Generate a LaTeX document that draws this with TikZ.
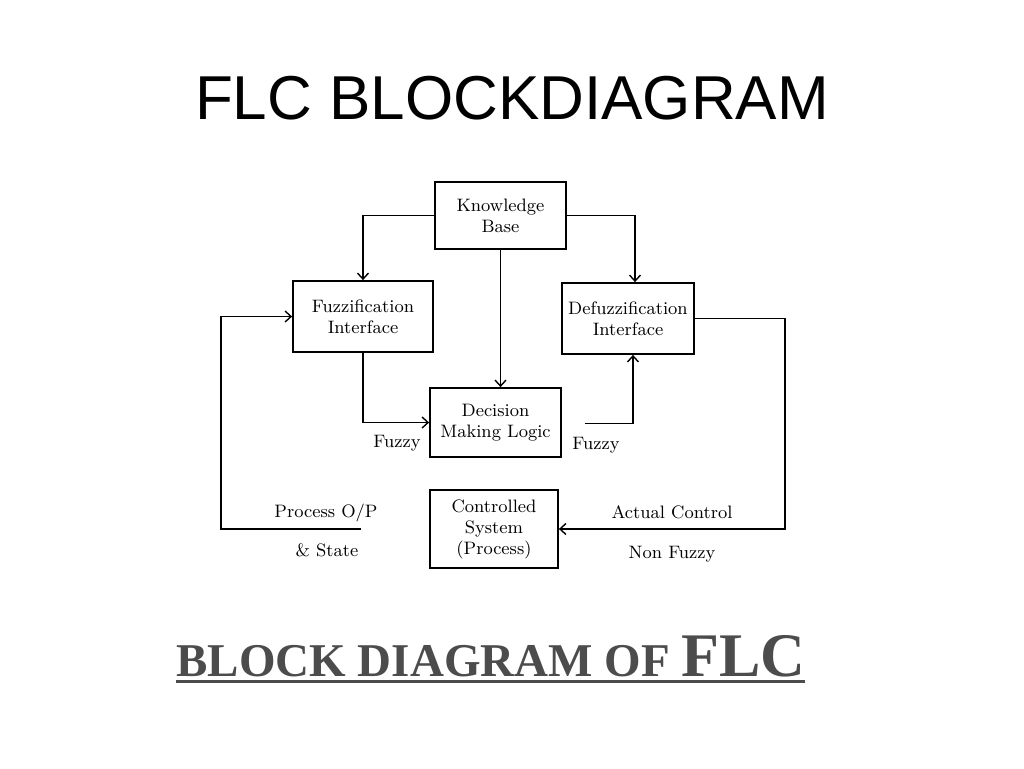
\documentclass[tikz,border=0pt]{standalone}
\usepackage{fontspec}
\newfontfamily\headfont{Liberation Sans}
\newfontfamily\capsfont{Liberation Serif}
\usepackage{tikz}
\usetikzlibrary{calc, positioning, arrows.meta}

\tikzset{
    block/.style={draw, line width=0.9pt, align=center, inner sep=0pt, font=\fontsize{9}{10.5}\selectfont},
    flow/.style={line width=0.7pt, -{Straight Barb[length=3pt,width=5.5pt]}},
    lbl/.style={anchor=base, font=\fontsize{9}{10.5}\selectfont}
}

\begin{document}
\begin{tikzpicture}[x=0.5pt, y=-0.5pt]
            \useasboundingbox (0,0) rectangle (1024,768);
            \node[font=\headfont\fontsize{31}{31}\selectfont] (title) at (512,98) {FLC BLOCKDIAGRAM};
            % blocks
            \node[block, minimum width=65.5pt, minimum height=33.5pt] (kb) at (500.5,215.5) {Knowledge\\Base};
            \node[block, minimum width=70pt, minimum height=35.5pt] (fuz) at (363,316.5) {Fuzzification\\Interface};
            \node[block, minimum width=66pt, minimum height=35.5pt] (defuz) at (628,318.5) {Defuzzification\\Interface};
            \node[block, minimum width=65.5pt, minimum height=34.5pt] (dml) at (495.5,422.5) {Decision\\Making Logic};
            \node[block, minimum width=64pt, minimum height=39pt] (cs) at (494,529) {Controlled\\System\\(Process)};
            % connectors
            \draw[flow] (kb.west) -| (fuz.north);
            \draw[flow] (kb.east) -| ($(defuz.north)+(7,0)$);
            \draw[flow] (kb.south) -- (kb.south |- dml.north);
            \draw[flow] (fuz.south) |- (dml.west);
            \coordinate (dmlout) at ($(dml.east)+(23,1)$);
            \draw[flow] (dmlout) -| ($(defuz.south)+(5,0)$);
            \draw[flow] (defuz.east) -- ++(90,0) |- (cs.east);
            \coordinate (fback) at ($(cs.west)+(-68,0)$);
            \draw[flow] (fback) -- ++(-140,0) |- (fuz.west);
            % labels
            \node[lbl] (fzl) at (397,447) {Fuzzy};
            \node[lbl] (fzr) at (596,449) {Fuzzy};
            \node[lbl] (pop) at (326,517) {Process O/P};
            \node[lbl] (pst) at (327,556) {\& State};
            \node[lbl] (act) at (672,518) {Actual Control};
            \node[lbl] (nfz) at (672,558) {Non Fuzzy};
            % caption
            \node[anchor=base west, inner sep=0pt, text=black!70, font=\capsfont\bfseries] (cap) at (176,676)
                {{\fontsize{23.5}{24}\selectfont BLOCK DIAGRAM OF }{\fontsize{31}{31}\selectfont FLC}};
            \draw[line width=1.5pt, black!70] (cap.south west |- 0,681) -- (805,681);
        \end{tikzpicture}
\end{document}
